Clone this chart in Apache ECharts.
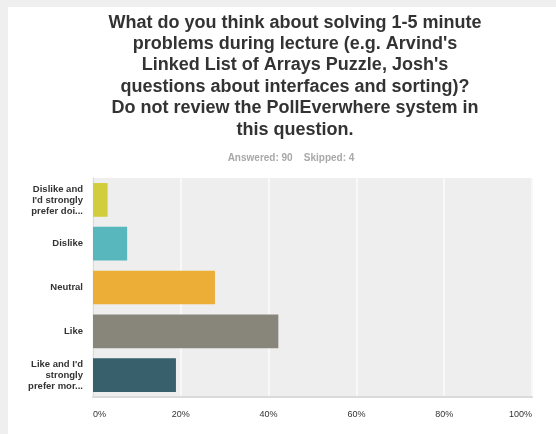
<!DOCTYPE html>
<html>
<head>
<meta charset="utf-8">
<script src="https://cdn.jsdelivr.net/npm/echarts@6/dist/echarts.min.js"></script>
<style>
  html, body { margin: 0; padding: 0; background: #efefef; }
  #chart { position: absolute; left: 8px; top: 7px; width: 548px; height: 427px; background: #ffffff; }
</style>
</head>
<body>
<div id="chart"></div>
<script>
// Answer choices, top to bottom
const categories = [
  "Dislike and\nI'd strongly\nprefer doi...",
  "Dislike",
  "Neutral",
  "Like",
  "Like and I'd\nstrongly\nprefer mor..."
];
// Share of respondents (%)
const percents = [3.33, 7.78, 27.78, 42.22, 18.89];
const barColors = ["#d2cd3c", "#58b6bd", "#edae38", "#88867a", "#375f6c"];
const xTicks = [0, 20, 40, 60, 80, 100];

const titleText = "What do you think about solving 1-5 minute\nproblems during lecture (e.g. Arvind's\nLinked List of Arrays Puzzle, Josh's\nquestions about interfaces and sorting)?\nDo not review the PollEverwhere system in\nthis question.";
const statsText = "Answered: 90    Skipped: 4";

const chart = echarts.init(document.getElementById('chart'));
chart.setOption({
  animation: false,
  title: [
    {
      text: titleText,
      left: 282, top: 0, textAlign: 'center',
      textStyle: { fontFamily: 'Liberation Sans', fontSize: 18, fontWeight: 'bold', lineHeight: 21.4, color: '#333333' }
    },
    {
      text: statsText,
      left: 278, top: 141, textAlign: 'center',
      textStyle: { fontFamily: 'Liberation Sans', fontSize: 10, fontWeight: 'bold', color: '#a8a8a8' }
    }
  ],
  grid: { left: 85, right: 24, top: 171, bottom: 37, show: true, backgroundColor: '#eeeeee', borderWidth: 0 },
  xAxis: {
    type: 'value', min: xTicks[0], max: xTicks[xTicks.length - 1], interval: 20,
    axisLine: { show: true, lineStyle: { color: '#dadada', width: 2 } },
    axisTick: { show: false },
    splitLine: { show: true, lineStyle: { color: '#f8f8f8', width: 2 } },
    axisLabel: {
      formatter: v => v + '%', margin: 13,
      fontFamily: 'Liberation Sans', fontSize: 9, color: '#333333',
      alignMinLabel: 'left', alignMaxLabel: 'right'
    }
  },
  yAxis: {
    type: 'category', data: categories, inverse: true,
    axisLine: { show: true, lineStyle: { color: '#dadada', width: 1 } },
    axisTick: { show: false },
    axisLabel: {
      margin: 10, fontFamily: 'Liberation Sans', fontSize: 9.5, fontWeight: 'bold',
      lineHeight: 11, color: '#333333', align: 'right'
    }
  },
  series: [{
    type: 'bar',
    barWidth: '77%',
    data: percents.map((v, i) => ({ value: v, itemStyle: { color: barColors[i] } }))
  }]
});
</script>
</body>
</html>
